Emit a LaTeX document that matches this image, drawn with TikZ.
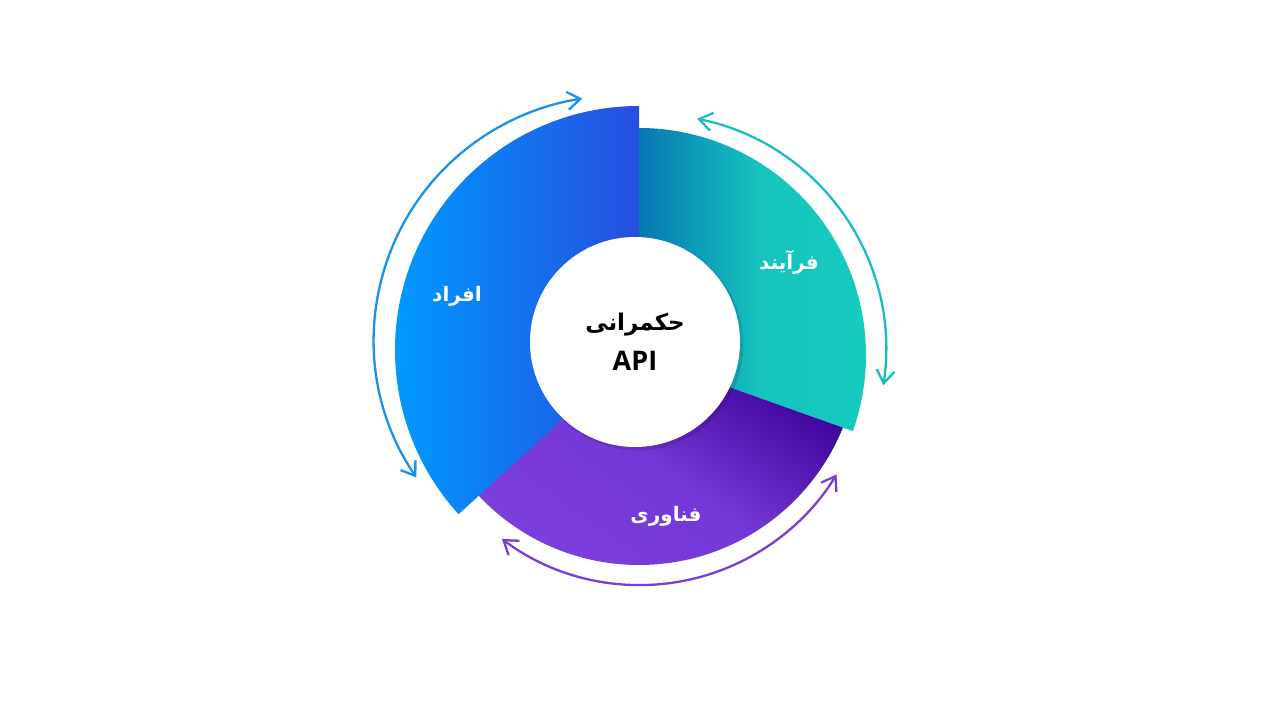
\documentclass[tikz,border=0pt]{standalone}
\usepackage{fontspec}
\setmainfont{Open Sans}
\newfontfamily\arabicfont[Script=Arabic]{DejaVu Sans}
\TeXXeTstate=1
\usetikzlibrary{arrows.meta}
\definecolor{peopleL}{RGB}{0,153,255}
\definecolor{peopleR}{RGB}{38,78,224}
\definecolor{processL}{RGB}{6,118,178}
\definecolor{processM}{RGB}{22,196,190}
\definecolor{processR}{RGB}{22,203,190}
\definecolor{techL}{RGB}{124,62,220}
\definecolor{techM}{RGB}{116,56,214}
\definecolor{techD}{RGB}{58,0,150}
\definecolor{peopleLine}{RGB}{24,146,236}
\definecolor{processLine}{RGB}{24,190,190}
\definecolor{techLine}{RGB}{122,62,216}

\begin{document}
\begin{tikzpicture}
	[x=1pt, y=1pt,
	part/.style = {text=white, font=\arabicfont\bfseries\fontsize{20}{24}\selectfont},
	hub/.style = {circle, fill=white, minimum size=210pt, inner sep=0pt, align=center,
		font=\bfseries\fontsize{27}{40}\selectfont},
	ring arrow/.style = {line width=2.3pt,
		{Straight Barb[length=13pt,width=18pt]}-{Straight Barb[length=13pt,width=18pt]}}]
	\useasboundingbox (0,0) rectangle (1280,720);
	% segments
	\shade[bottom color=techL, top color=techD, shading angle=-35, middle color=techM]
		(639,375) -- ++(221:220pt) arc[start angle=221, end angle=342, radius=220pt] -- cycle;
	\shade[left color=peopleL, right color=peopleR]
		(639,370) -- ++(90:244pt) arc[start angle=90, end angle=222.3, radius=244pt] -- cycle;
	\shade[left color=processL, right color=processR, middle color=processM]
		(639,365) -- ++(-19.6:227pt) arc[start angle=-19.6, end angle=90, radius=227pt] -- cycle;
	% hub
	\fill[black, opacity=0.12] (637.5,375.5) circle[radius=106pt];
	\node[hub] (hub) at (635,378) {{\arabicfont\fontsize{23}{40}\selectfont\beginR حکمرانی\endR}\\API};
	\node[part] (people) at (457,424) {\beginR افراد\endR};
	\node[part] (process) at (789,458) {\beginR فرآیند\endR};
	\node[part] (tech) at (666,204) {\beginR فناوری\endR};
	% arrows round the ring
	\coordinate (people start) at ([shift={(214.3:244pt)}]618,380);
	\coordinate (process start) at ([shift={(78.5:236pt)}]650,370);
	\coordinate (tech start) at ([shift={(233.1:230pt)}]640,365);
	\draw[ring arrow, peopleLine] (people start) arc[start angle=214.3, end angle=98.4, radius=244pt];
	\draw[ring arrow, processLine] (process start) arc[start angle=78.5, end angle=-8.6, radius=236pt];
	\draw[ring arrow, techLine] (tech start) arc[start angle=233.1, end angle=328.7, radius=230pt];
\end{tikzpicture}
\end{document}
